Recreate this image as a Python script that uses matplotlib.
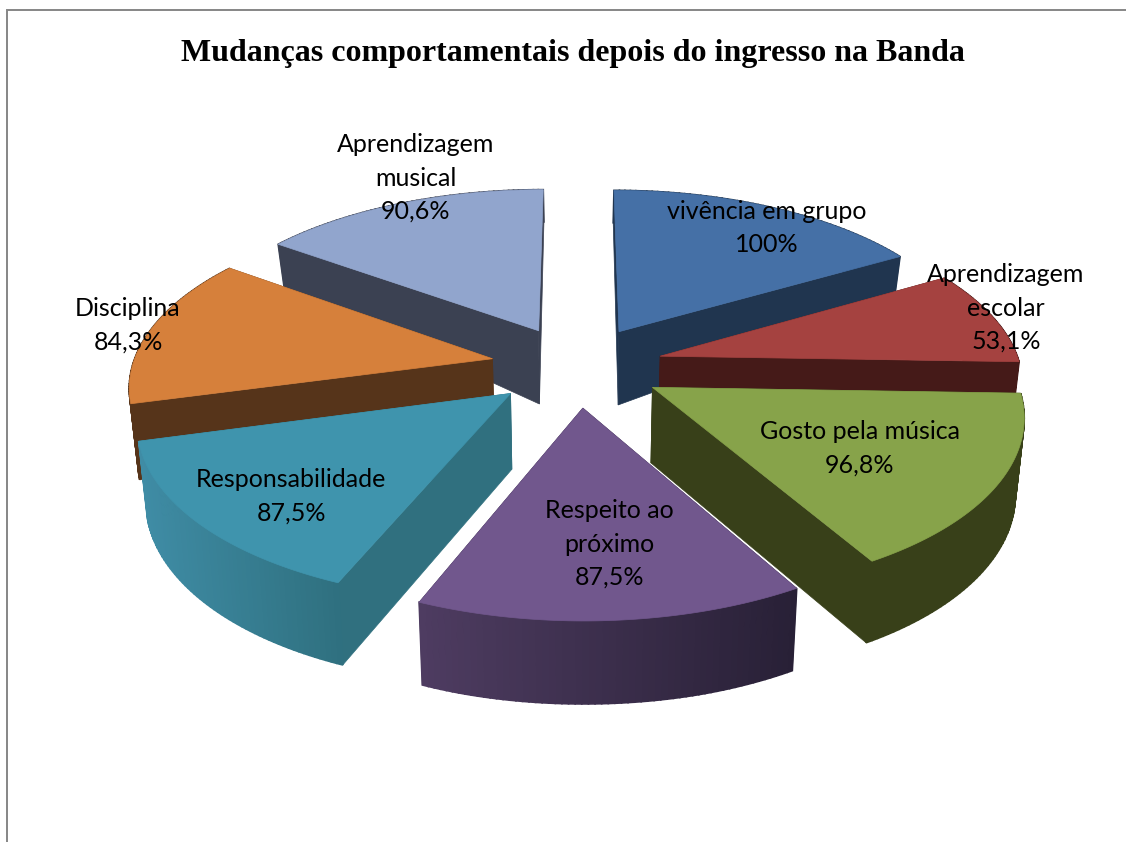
# plot exploded 3d pie of behaviour changes
import numpy as np
import matplotlib
matplotlib.use("Agg")
import matplotlib.pyplot as plt

categories = [
    "vivência em grupo",
    "Aprendizagem\nescolar",
    "Gosto pela música",
    "Respeito ao\npróximo",
    "Responsabilidade",
    "Disciplina",
    "Aprendizagem\nmusical",
]
values = [100, 53.1, 96.8, 87.5, 87.5, 84.3, 90.6]
value_labels = ["100%", "53,1%", "96,8%", "87,5%", "87,5%", "84,3%", "90,6%"]
title = "Mudanças comportamentais depois do ingresso na Banda"

top_colors = ["#4570A6", "#A54240", "#87A34A", "#71578D", "#3F94AD", "#D6803B", "#91A5CD"]
wall_colors = ["#20354F", "#451A18", "#384019", "#2A2138", "#30707F", "#56341A", "#3B4152"]
arc_left = ["#20354F", "#451A18", "#384019", "#4E3C61", "#3F8CA5", "#56341A", "#3B4152"]
arc_right = ["#20354F", "#451A18", "#384019", "#282036", "#2F707F", "#56341A", "#3B4152"]
label_pos = [
    (767, 228), (1006, 308), (860, 448), (609, 544), (291, 496), (128, 325), (416, 178),
]

# projection of the pie plane to the image, fitted by eye on the picture
CX, CY = 577, 366
AX, BY = 360, 170
PERSP = 0.14
EXPLODE = 0.24


def project(u, v):
    s = 1 / (1 + PERSP * v)
    return CX + AX * u * s, CY - BY * v * s


def drop(x, y, v):
    # position of the lower edge of the slice
    depth = np.interp(v, [-1.2, -0.2, 0.25, 0.8, 1.3], [83, 76, 73, 43, 30])
    return x + (CX - x) * 0.02, y + depth


def to_rgb(c):
    return np.array(matplotlib.colors.to_rgb(c))


fig = plt.figure(figsize=(11.26, 8.42), dpi=100)
ax = fig.add_axes([0, 0, 1, 1])
ax.set_xlim(0, 1126)
ax.set_ylim(842, 0)
ax.axis("off")

# chart frame, open at right and bottom like the crop
ax.plot([7, 7, 1126], [842, 10, 10], color="#868686", lw=1.4, solid_joinstyle="miter")

ax.text(573, 54, title, ha="center", va="center", fontsize=23, fontweight="bold",
        family="Liberation Serif", color="black")

edges = np.cumsum([0] + values) / np.sum(values) * 2 * np.pi
mids = (edges[:-1] + edges[1:]) / 2

# back slices first
order = np.argsort(-np.cos(mids))
for i in order:
    layer = np.where(order == i)[0][0] * 3
    t = np.linspace(edges[i], edges[i + 1], 60)
    ou, ov = EXPLODE * np.sin(mids[i]), EXPLODE * np.cos(mids[i])
    arc_u, arc_v = ou + np.sin(t), ov + np.cos(t)
    ax_x, ax_y = project(ou, ov)
    arc_x, arc_y = project(arc_u, arc_v)
    low_x, low_y = drop(arc_x, arc_y, arc_v)
    apex_lx, apex_ly = drop(ax_x, ax_y, ov)

    # radial walls, the one further back goes first
    ends = sorted([0, -1], key=lambda e: -arc_v[e])
    for e in ends:
        ax.fill([ax_x, arc_x[e], low_x[e], apex_lx], [ax_y, arc_y[e], low_y[e], apex_ly],
                color=wall_colors[i], lw=0.5, zorder=2 + layer)

    # outer wall in small strips for the gradient
    xmin, xmax = arc_x.min(), arc_x.max()
    c0, c1 = to_rgb(arc_left[i]), to_rgb(arc_right[i])
    for k in range(len(t) - 1):
        f = ((arc_x[k] + arc_x[k + 1]) / 2 - xmin) / (xmax - xmin)
        ax.fill([arc_x[k], arc_x[k + 1], low_x[k + 1], low_x[k]],
                [arc_y[k], arc_y[k + 1], low_y[k + 1], low_y[k]],
                color=c0 + (c1 - c0) * f, lw=1.2, zorder=3 + layer)

    # top of the slice
    ax.fill(np.r_[ax_x, arc_x], np.r_[ax_y, arc_y], color=top_colors[i], lw=0.5,
            zorder=4 + layer)

for (x, y), cat, lab in zip(label_pos, categories, value_labels):
    ax.text(x, y, f"{cat}\n{lab}", ha="center", va="center", fontsize=18, family="Lato",
            color="black", linespacing=1.55, zorder=50)

fig.savefig("out.png", dpi=100)
